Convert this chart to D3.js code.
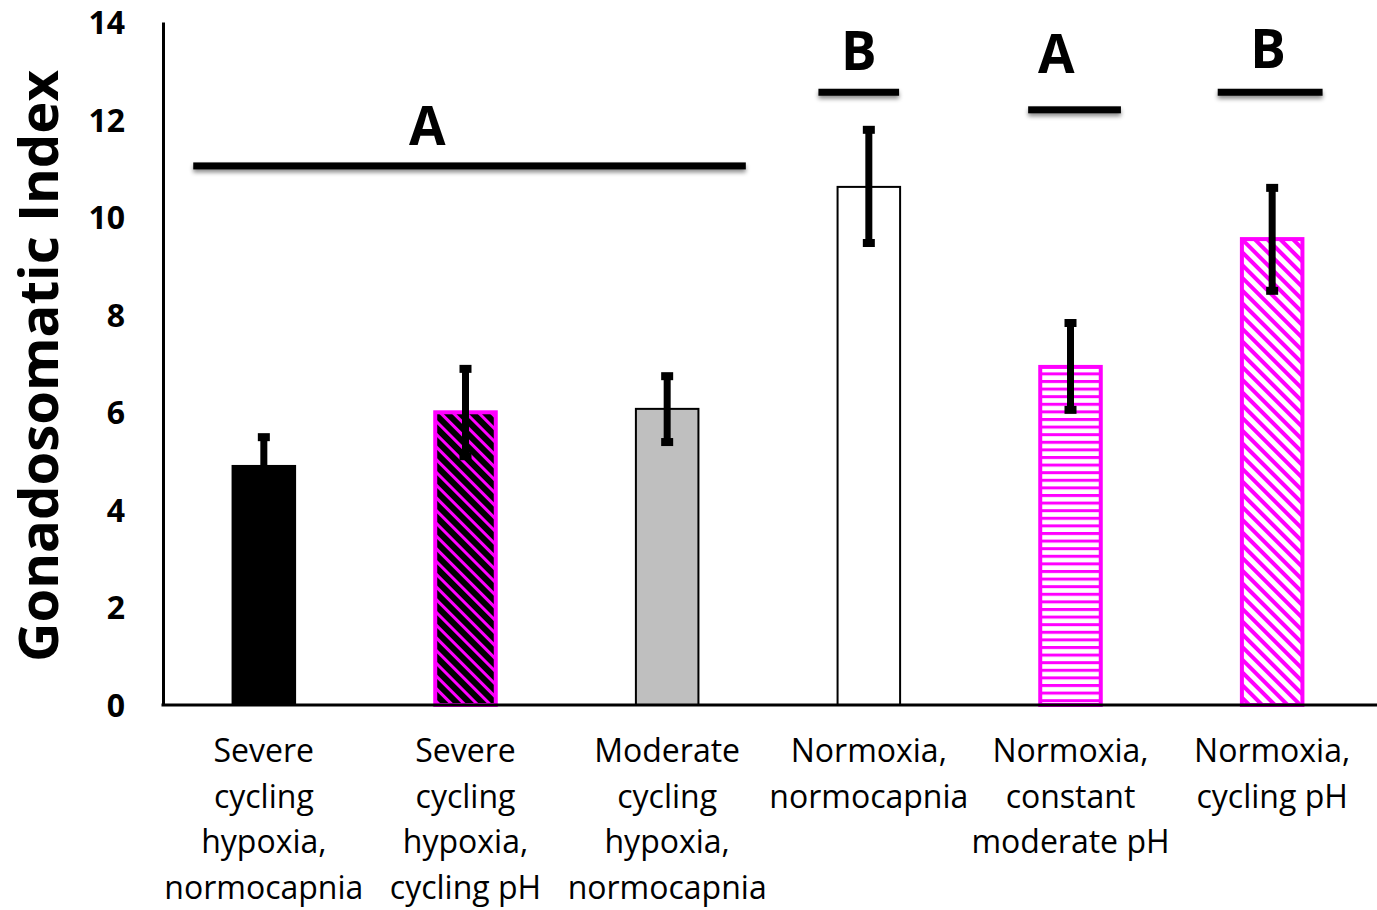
<!DOCTYPE html>
<html>
<head>
<meta charset="utf-8">
<script src="https://cdn.jsdelivr.net/npm/d3@7/dist/d3.min.js"></script>
<style>
  html, body { margin: 0; padding: 0; background: #fff; }
  svg { display: block; }
</style>
</head>
<body>
<svg id="chart" width="1377" height="910"></svg>
<script>
// Treatment groups (labels split into lines)
const categories = [
  ["Severe", "cycling", "hypoxia,", "normocapnia"],
  ["Severe", "cycling", "hypoxia,", "cycling pH"],
  ["Moderate", "cycling", "hypoxia,", "normocapnia"],
  ["Normoxia,", "normocapnia"],
  ["Normoxia,", "constant", "moderate pH"],
  ["Normoxia,", "cycling pH"]
];
// Mean gonadosomatic index per group
const means = [4.9, 6.0, 6.07, 10.62, 6.93, 9.55];
// Upper and lower ends of the error bars
const errUpper = [5.49, 6.89, 6.74, 11.79, 7.83, 10.6];
const errLower = [4.31, 5.1, 5.39, 9.47, 6.05, 8.49];
// Bar fill style per group
const fills = ["solid-black", "hatch-black", "solid-gray", "solid-white", "hatch-horiz", "hatch-diag"];
// Y axis ticks
const yTicks = [0, 2, 4, 6, 8, 10, 12, 14];
// Significance groups: letter, line level, span and letter position in category units
const sigLetters = ["A", "B", "A", "B"];
const sigLevels = [11.05, 12.56, 12.2, 12.56];
const sigFrom = [-0.35, 2.75, 3.79, 4.73];
const sigTo = [2.39, 3.15, 4.25, 5.25];
const sigLabelPos = [0.81, 2.95, 3.93, 4.98];
const sigLabelLevel = [11.48, 13.01, 12.95, 13.06];

const svg = d3.select("#chart");
const plotLeft = 163, plotRight = 1373, plotTop = 22, plotBottom = 705;
const FONT = "'Open Sans', 'Noto Sans', sans-serif";

const x = d3.scaleBand().domain(d3.range(categories.length))
  .range([plotLeft, plotRight]).paddingInner(0.68).paddingOuter(0.34);
const y = d3.scaleLinear().domain([0, 14]).range([plotBottom, plotTop]);
const xPos = d3.scaleLinear().domain([0, categories.length - 1])
  .range([x(0) + x.bandwidth() / 2, x(categories.length - 1) + x.bandwidth() / 2]);

const defs = svg.append("defs");
// Black stripes on magenta
const p1 = defs.append("pattern").attr("id", "hatch-black").attr("patternUnits", "userSpaceOnUse")
  .attr("width", 9).attr("height", 9).attr("patternTransform", "rotate(45)");
p1.append("rect").attr("width", 9).attr("height", 9).attr("fill", "#ff00ff");
p1.append("rect").attr("width", 9).attr("height", 6).attr("fill", "#000");
// Horizontal magenta lines on white
const p2 = defs.append("pattern").attr("id", "hatch-horiz").attr("patternUnits", "userSpaceOnUse")
  .attr("width", 8).attr("height", 7.6);
p2.append("rect").attr("width", 8).attr("height", 7.6).attr("fill", "#fff");
p2.append("rect").attr("width", 8).attr("height", 3).attr("fill", "#ff00ff");
// Diagonal magenta stripes on white
const p3 = defs.append("pattern").attr("id", "hatch-diag").attr("patternUnits", "userSpaceOnUse")
  .attr("width", 9).attr("height", 9).attr("patternTransform", "rotate(45)");
p3.append("rect").attr("width", 9).attr("height", 9).attr("fill", "#fff");
p3.append("rect").attr("width", 9).attr("height", 4).attr("fill", "#ff00ff");
// Soft shadow under significance lines
const f = defs.append("filter").attr("id", "shadow").attr("filterUnits", "userSpaceOnUse")
  .attr("x", 0).attr("y", 0).attr("width", 1377).attr("height", 910);
f.append("feDropShadow").attr("dx", 0).attr("dy", 3).attr("stdDeviation", 2.2)
  .attr("flood-color", "#000").attr("flood-opacity", 0.45);

const fillColor = k => ({
  "solid-black": "#000", "solid-gray": "#bfbfbf", "solid-white": "#fff",
  "hatch-black": "url(#hatch-black)", "hatch-horiz": "url(#hatch-horiz)", "hatch-diag": "url(#hatch-diag)"
})[k];
const strokeColor = k => k.startsWith("hatch") ? "#ff00ff" : "#000";
const strokeW = k => k.startsWith("hatch") ? 4 : 2;

// Bars
svg.append("g").selectAll("rect").data(means).join("rect")
  .attr("x", (d, i) => x(i) + strokeW(fills[i]) / 2)
  .attr("y", d => y(d))
  .attr("width", (d, i) => x.bandwidth() - strokeW(fills[i]))
  .attr("height", d => y(0) - y(d))
  .attr("fill", (d, i) => fillColor(fills[i]))
  .attr("stroke", (d, i) => strokeColor(fills[i]))
  .attr("stroke-width", (d, i) => strokeW(fills[i]));

// Error bars
const eb = svg.append("g").selectAll("g").data(means).join("g");
eb.append("line")
  .attr("x1", (d, i) => xPos(i)).attr("x2", (d, i) => xPos(i))
  .attr("y1", (d, i) => y(errLower[i])).attr("y2", (d, i) => y(errUpper[i]))
  .attr("stroke", "#000").attr("stroke-width", 7);
[errUpper, errLower].forEach(arr => {
  eb.append("rect")
    .attr("x", (d, i) => xPos(i) - 6).attr("y", (d, i) => y(arr[i]) - 4)
    .attr("width", 12).attr("height", 8).attr("fill", "#000");
});

// Axes
const yAxis = svg.append("g").attr("transform", `translate(${plotLeft},0)`)
  .call(d3.axisLeft(y).tickValues(yTicks).tickSize(0).tickPadding(38));
yAxis.select(".domain").attr("stroke", "#000").attr("stroke-width", 3);
yAxis.selectAll("text").attr("font-family", FONT).attr("dy", "0.36em")
  .attr("font-weight", "bold").attr("font-size", 32).attr("fill", "#000");

svg.append("line").attr("x1", plotLeft - 1.5).attr("x2", 1377).attr("y1", y(0)).attr("y2", y(0))
  .attr("stroke", "#000").attr("stroke-width", 3);

// Category labels
const lab = svg.append("g").selectAll("text").data(categories).join("text")
  .attr("text-anchor", "middle")
  .attr("font-family", FONT).attr("font-size", 32).attr("fill", "#000");
lab.selectAll("tspan").data((d, i) => d.map(t => ({ t, i }))).join("tspan")
  .attr("x", d => xPos(d.i)).attr("y", (d, j) => 762 + j * 45.5)
  .text(d => d.t);

// Y axis title
svg.append("text")
  .attr("transform", "translate(58,366) rotate(-90)")
  .attr("text-anchor", "middle")
  .attr("font-family", FONT).attr("font-weight", "bold")
  .attr("font-size", 54.5).attr("fill", "#000")
  .text("Gonadosomatic Index");

// Significance groupings
const sig = svg.append("g").selectAll("g").data(sigLetters).join("g");
sig.append("rect")
  .attr("x", (d, i) => xPos(sigFrom[i]))
  .attr("width", (d, i) => xPos(sigTo[i]) - xPos(sigFrom[i]))
  .attr("y", (d, i) => y(sigLevels[i]) - 3.5).attr("height", 7)
  .attr("fill", "#000").attr("filter", "url(#shadow)");
sig.append("text")
  .attr("x", (d, i) => xPos(sigLabelPos[i]))
  .attr("y", (d, i) => y(sigLabelLevel[i]))
  .attr("text-anchor", "middle")
  .attr("font-family", FONT).attr("font-weight", "bold")
  .attr("font-size", 53).attr("fill", "#000")
  .text(d => d);
</script>
</body>
</html>
